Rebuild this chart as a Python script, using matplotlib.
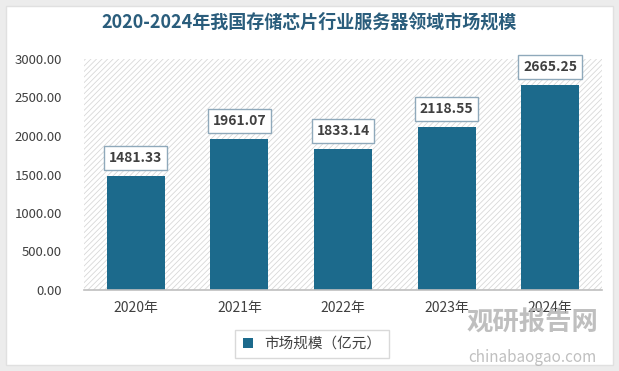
import matplotlib.pyplot as plt
from matplotlib.patches import Rectangle

plt.rcParams['font.family'] = ['Noto Sans CJK SC', 'DejaVu Sans']
plt.rcParams['hatch.linewidth'] = 0.6

years = ['2020年', '2021年', '2022年', '2023年', '2024年']
values = [1481.33, 1961.07, 1833.14, 2118.55, 2665.25]
yticks = [0, 500, 1000, 1500, 2000, 2500, 3000]

title = '2020-2024年我国存储芯片行业服务器领域市场规模'
series_name = '市场规模（亿元）'
bar_color = '#1c6a8c'
text_color = '#404040'

fig = plt.figure(figsize=(6.19, 3.71), dpi=100)
fig.patch.set_facecolor('#ececec')
# white card
fig.add_artist(Rectangle((6 / 619, 6 / 371), 607 / 619, 359 / 371,
                         transform=fig.transFigure, facecolor='white',
                         edgecolor='#e0e0e0', lw=1, zorder=-1))

ax = fig.add_axes([84 / 619, 81 / 371, 518 / 619, 231 / 371])
ax.set_facecolor('none')
ax.add_patch(Rectangle((0, 0), 1, 1, transform=ax.transAxes, facecolor='white',
                       edgecolor='#d8d8d8', hatch='//////', lw=0, zorder=0))

x = range(len(years))
bars = ax.bar(x, values, width=0.56, color=bar_color, zorder=2)
for xi, v in zip(x, values):
    ax.annotate(f'{v:.2f}', (xi, v), xytext=(0, 8), textcoords='offset points',
                ha='center', va='bottom', fontsize=10, fontweight='bold',
                color=text_color, zorder=3,
                bbox=dict(boxstyle='square,pad=0.35', facecolor='white',
                          edgecolor='#8fa9bb', lw=1))

ax.set_xlim(-0.5, len(years) - 0.5)
ax.set_ylim(0, 3000)
ax.set_yticks(yticks)
ax.set_yticklabels([f'{t:.2f}' for t in yticks], fontsize=9.5, color=text_color)
ax.set_xticks(list(x))
ax.set_xticklabels(years, fontsize=10, color=text_color)
ax.tick_params(length=0, axis='y', pad=16)
ax.tick_params(length=0, axis='x', pad=8)
for s in ['top', 'right', 'left']:
    ax.spines[s].set_visible(False)
ax.spines['bottom'].set_color('#bfbfbf')
ax.spines['bottom'].set_linewidth(1.2)

fig.text(0.5, 1 - 22 / 371, title, ha='center', va='center', fontsize=13,
         fontweight='bold', color='#2a5d7c')

leg = fig.legend([bars], [series_name], loc='center', bbox_to_anchor=(312 / 619, 1 - 344 / 371),
                 frameon=True, fontsize=10.5, handlelength=0.7, handleheight=0.7,
                 fancybox=False, borderpad=0.5)
leg.get_frame().set_edgecolor('#d0d0d0')
for t in leg.get_texts():
    t.set_color(text_color)

# watermark
fig.text(532 / 619, 1 - 323 / 371, '观研报告网', ha='center', va='center', fontsize=19,
         fontweight='bold', color='#b0b0b0', alpha=0.8, zorder=5)
fig.text(532 / 619, 1 - 357 / 371, 'chinabaogao.com', ha='center', va='center',
         fontsize=11, color='#b0b0b0', alpha=0.8, zorder=5)

fig.savefig('out.png', dpi=100, facecolor=fig.get_facecolor())
